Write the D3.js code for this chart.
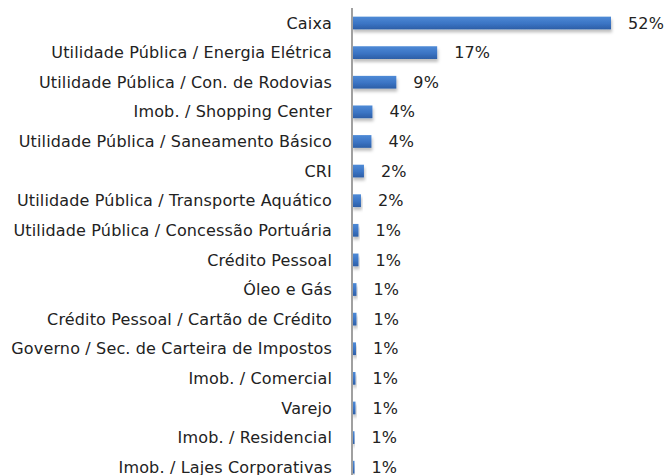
<!DOCTYPE html>
<html>
<head>
<meta charset="utf-8">
<script src="https://cdn.jsdelivr.net/npm/d3@7"></script>
<style>
  body { margin: 0; background: #fff; }
  svg { display: block; font-family: "DejaVu Sans", Verdana, sans-serif; }
</style>
</head>
<body>
<svg id="chart"></svg>
<script>
const categories = [
  'Caixa',
  'Utilidade Pública / Energia Elétrica',
  'Utilidade Pública / Con. de Rodovias',
  'Imob. / Shopping Center',
  'Utilidade Pública / Saneamento Básico',
  'CRI',
  'Utilidade Pública / Transporte Aquático',
  'Utilidade Pública / Concessão Portuária',
  'Crédito Pessoal',
  'Óleo e Gás',
  'Crédito Pessoal / Cartão de Crédito',
  'Governo / Sec. de Carteira de Impostos',
  'Imob. / Comercial',
  'Varejo',
  'Imob. / Residencial',
  'Imob. / Lajes Corporativas'
];
const values = [52, 17.1, 8.9, 4.1, 3.9, 2.4, 1.8, 1.3, 1.3, 0.9, 0.9, 0.8, 0.7, 0.7, 0.5, 0.5];
const valueLabels = ['52%', '17%', '9%', '4%', '4%', '2%', '2%', '1%', '1%', '1%', '1%', '1%', '1%', '1%', '1%', '1%'];

const width = 665, height = 475;
const rows = categories.map(function (c, i) {
  return { cat: c, value: values[i], label: valueLabels[i] };
});

const svg = d3.select('#chart')
  .attr('width', width)
  .attr('height', height);

const defs = svg.append('defs');
const grad = defs.append('linearGradient')
  .attr('id', 'barGrad')
  .attr('x1', 0).attr('y1', 0).attr('x2', 0).attr('y2', 1);
grad.append('stop').attr('offset', '0%').attr('stop-color', '#4e8ad6');
grad.append('stop').attr('offset', '55%').attr('stop-color', '#3b74c4');
grad.append('stop').attr('offset', '100%').attr('stop-color', '#2c5ea6');

const shadow = defs.append('filter')
  .attr('id', 'shadow')
  .attr('x', '-10%').attr('y', '-20%').attr('width', '130%').attr('height', '200%');
shadow.append('feDropShadow')
  .attr('dx', 1).attr('dy', 3).attr('stdDeviation', 1.8)
  .attr('flood-color', '#000').attr('flood-opacity', 0.25);

const x0 = 352;
const x = d3.scaleLinear().domain([0, 52]).range([x0, 611]);
const y = d3.scaleBand()
  .domain(categories)
  .range([8.2, 482])
  .paddingInner(0.57)
  .paddingOuter(0.285);

svg.append('g')
  .selectAll('rect')
  .data(rows)
  .join('rect')
  .attr('x', x(0))
  .attr('y', function (d) { return y(d.cat); })
  .attr('width', function (d) { return x(d.value) - x(0); })
  .attr('height', y.bandwidth())
  .attr('fill', 'url(#barGrad)')
  .attr('filter', 'url(#shadow)');

svg.append('line')
  .attr('x1', x0).attr('x2', x0)
  .attr('y1', 8).attr('y2', height)
  .attr('stroke', '#a0a0a0')
  .attr('stroke-width', 2);

svg.append('g')
  .selectAll('text')
  .data(rows)
  .join('text')
  .attr('x', 332)
  .attr('y', function (d) { return y(d.cat) + y.bandwidth() / 2; })
  .attr('dy', '0.35em')
  .attr('text-anchor', 'end')
  .attr('font-size', 16)
  .attr('letter-spacing', 0.15)
  .attr('fill', '#222')
  .text(function (d) { return d.cat; });

svg.append('g')
  .selectAll('text')
  .data(rows)
  .join('text')
  .attr('x', function (d) { return x(d.value) + 17; })
  .attr('y', function (d) { return y(d.cat) + y.bandwidth() / 2; })
  .attr('dy', '0.35em')
  .attr('font-size', 16)
  .attr('letter-spacing', 0.15)
  .attr('fill', '#222')
  .text(function (d) { return d.label; });
</script>
</body>
</html>
